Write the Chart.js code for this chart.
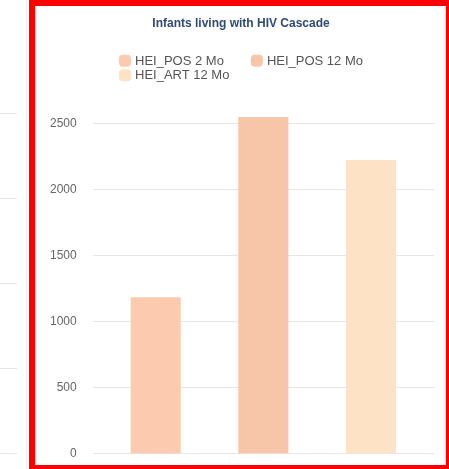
<!DOCTYPE html>
<html>
<head>
<meta charset="utf-8">
<script src="https://cdn.jsdelivr.net/npm/chart.js@4/dist/chart.umd.min.js"></script>
<style>
  html, body { margin: 0; padding: 0; background: #fff; }
  body { width: 449px; height: 469px; position: relative; overflow: hidden; font-family: "Liberation Sans", Arial, sans-serif; }
  .side-line { position: absolute; left: 0; width: 17px; height: 1px; background: #e6e6e6; }
  .side-edge { position: absolute; left: 26px; top: 0; width: 1px; height: 469px; background: #ececec; }
  .card { position: absolute; left: 35px; top: 6px; width: 411px; height: 459px; box-sizing: border-box; border-left: 1px solid #e4e4e4; border-right: 1px solid #e4e4e4; background: #fff; }
  .frame { position: absolute; left: 29px; top: 0; width: 420px; height: 469px; box-sizing: border-box; border-style: solid; border-color: #ff0000; border-width: 6px 3px 4px 6px; pointer-events: none; }
  #wrap { position: absolute; left: 37px; top: 6px; width: 408px; height: 457px; }
</style>
</head>
<body>
<div class="side-line" style="top:113px"></div>
<div class="side-line" style="top:198px"></div>
<div class="side-line" style="top:283px"></div>
<div class="side-line" style="top:368px"></div>
<div class="side-line" style="top:453px"></div>
<div class="side-edge"></div>
<div class="card"></div>
<div id="wrap"><canvas id="graph"></canvas></div>
<div class="frame"></div>

<script>
// ------------ data -----------------------

var chartTitle = "Infants living with HIV Cascade";
var categories = [""];
var seriesNames = ["HEI_POS 2 Mo", "HEI_POS 12 Mo", "HEI_ART 12 Mo"];
var seriesValues = [1187, 2553, 2227];
var seriesColors = ["#fccaae", "#f7c6a9", "#fde2c5"];
var yTicks = [0, 500, 1000, 1500, 2000, 2500];

// ------------ legend (rows start at same x) ---------------

var rowLegend = {
  id: "rowLegend",
  afterDraw: function (chart) {
    var ctx = chart.ctx;
    var sets = chart.data.datasets;
    var box = 12, gap = 4, itemGap = 27, maxRow = 260;
    ctx.save();
    ctx.font = "13px 'Liberation Sans', Arial, sans-serif";
    ctx.textBaseline = "middle";
    ctx.textAlign = "left";

    // split items in rows
    var rows = [[]];
    var rowW = [0];
    for (var i = 0; i < sets.length; i++) {
      var w = box + gap + ctx.measureText(sets[i].label).width;
      var r = rows.length - 1;
      var add = rows[r].length ? itemGap + w : w;
      if (rows[r].length && rowW[r] + add > maxRow) {
        rows.push([]);
        rowW.push(0);
        r++;
        add = w;
      }
      rows[r].push({ i: i, w: w });
      rowW[r] += add;
    }

    var x0 = (chart.width - rowW[0]) / 2;
    var y = 54.7;
    for (var r = 0; r < rows.length; r++) {
      var x = x0;
      rows[r].forEach(function (it) {
        ctx.fillStyle = sets[it.i].backgroundColor;
        ctx.beginPath();
        ctx.roundRect(x, y - box / 2, box, box, 4);
        ctx.fill();
        ctx.fillStyle = "#555";
        ctx.fillText(sets[it.i].label, x + box + gap, y + 0.5);
        x += it.w + itemGap;
      });
      y += 14.6;
    }
    ctx.restore();
  },
};

// ------------ graph ----------------------

var datasets = [];
for (var s = 0; s < seriesNames.length; s++) {
  datasets.push({
    label: seriesNames[s],
    data: [seriesValues[s]],
    backgroundColor: seriesColors[s],
    borderWidth: 0,
    barPercentage: 0.465,
    categoryPercentage: 0.946,
  });
}

const ctx = document.getElementById("graph");

const myChart = new Chart(ctx, {
  type: "bar",
  data: {
    labels: categories,
    datasets: datasets,
  },
  options: {
    responsive: true,
    maintainAspectRatio: false,
    animation: false,
    layout: {
      padding: { left: 11, right: 11, top: 0, bottom: 0 },
    },
    plugins: {
      legend: { display: false },
      tooltip: { enabled: false },
      title: {
        display: true,
        text: chartTitle,
        color: "#2e4a75",
        font: { family: "'Liberation Sans', Arial, sans-serif", size: 12, weight: "bold" },
        padding: { top: 10, bottom: 86.6 },
      },
    },
    scales: {
      x: {
        display: false,
      },
      y: {
        min: 0,
        max: Math.max.apply(null, seriesValues),
        border: { display: false },
        grid: { color: "#e6e6e6", lineWidth: 1, drawTicks: true, tickLength: 14, tickColor: "rgba(0,0,0,0)" },
        afterBuildTicks: function (scale) {
          scale.ticks = yTicks.map(function (v) { return { value: v }; });
        },
        ticks: {
          padding: 2,
          color: "#666",
          font: { family: "'Liberation Sans', Arial, sans-serif", size: 12 },
          callback: function (value) { return String(value); },
        },
      },
    },
  },
  plugins: [rowLegend],
});
</script>
</body>
</html>
